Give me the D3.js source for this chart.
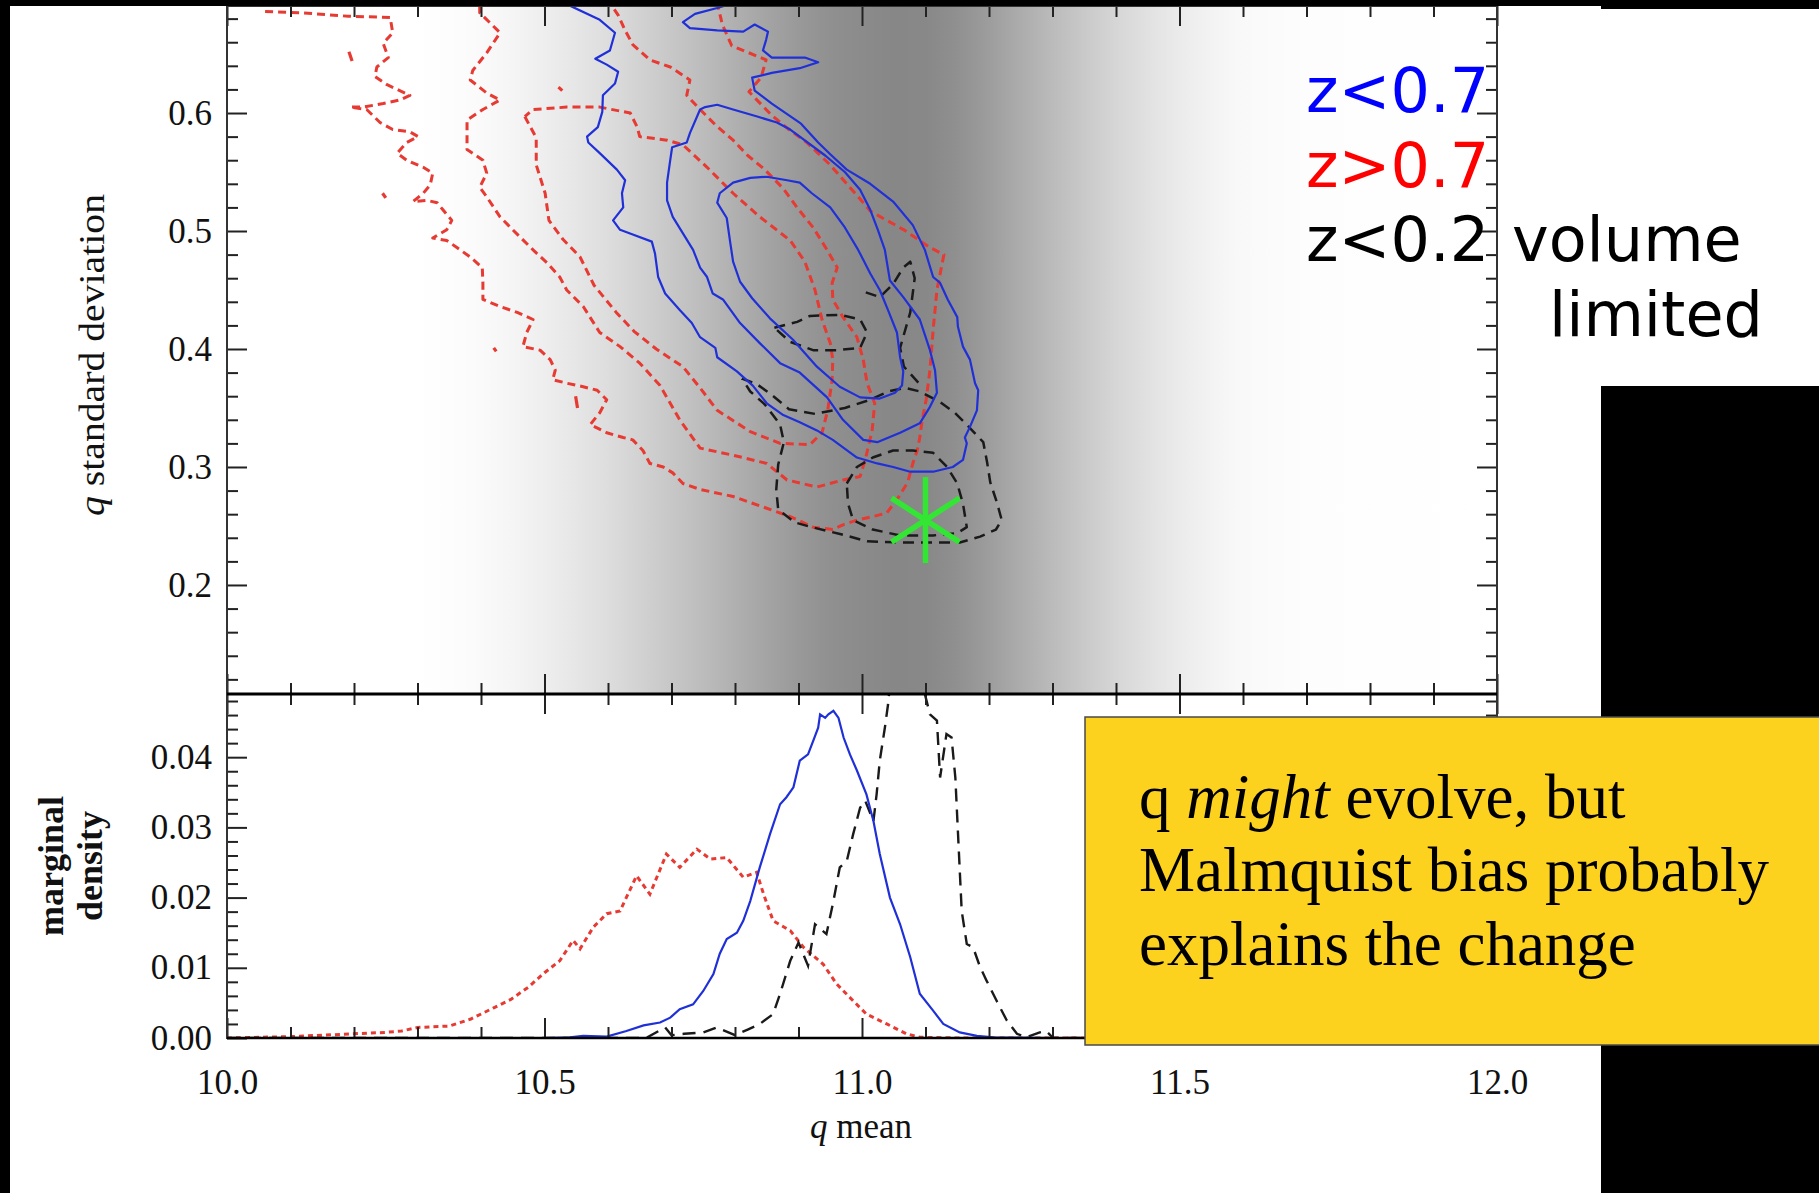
<!DOCTYPE html>
<html>
<head>
<meta charset="utf-8">
<script src="https://cdn.jsdelivr.net/npm/d3@7"></script>
<style>
  body { margin: 0; background: #fff; }
  svg { display: block; }
</style>
</head>
<body>
<svg id="chart" width="1819" height="1193"></svg>
<script>
// ---- data ----

// axis ticks
const qTicks = [10.0, 10.5, 11.0, 11.5, 12.0];
const sdTicks = [0.2, 0.3, 0.4, 0.5, 0.6];
const densTicks = [0.00, 0.01, 0.02, 0.03, 0.04];

// grey band behind the upper panel (q mean, grey level)
const shadeQ = [10.0, 10.3, 10.35, 10.4, 10.45, 10.5, 10.55, 10.6, 10.65, 10.7, 10.75, 10.8, 10.85, 10.9, 10.95,
  11.0, 11.05, 11.1, 11.15, 11.2, 11.25, 11.3, 11.35, 11.4, 11.45, 11.5, 11.55, 11.6, 11.7, 12.0];
const shadeGray = [255, 255, 253, 250, 245, 238, 230, 221, 210, 199, 188, 176, 164, 153, 144,
  139, 135, 136, 144, 157, 172, 187, 201, 214, 225, 235, 243, 249, 253, 255];

// z<0.7 contours (blue, solid)  [q mean, q sd]
const blueOuter = [[10.540,0.691],[10.587,0.679],[10.611,0.668],[10.603,0.653],[10.580,0.646],[10.598,0.641],[10.616,0.635],
  [10.611,0.625],[10.592,0.615],[10.591,0.601],[10.584,0.588],[10.567,0.580],[10.569,0.575],[10.587,0.566],[10.614,0.552],
  [10.627,0.543],[10.622,0.532],[10.624,0.520],[10.608,0.509],[10.619,0.501],[10.639,0.497],[10.669,0.491],[10.674,0.481],
  [10.679,0.461],[10.690,0.447],[10.713,0.433],[10.732,0.422],[10.745,0.410],[10.769,0.401],[10.772,0.393],[10.803,0.381],
  [10.828,0.369],[10.850,0.354],[10.876,0.344],[10.902,0.338],[10.929,0.331],[10.954,0.323],[10.992,0.308],[11.024,0.303],
  [11.049,0.300],[11.076,0.296],[11.112,0.296],[11.143,0.300],[11.159,0.306],[11.165,0.320],[11.162,0.325],[11.170,0.334],
  [11.181,0.348],[11.183,0.365],[11.178,0.371],[11.170,0.391],[11.159,0.402],[11.151,0.419],[11.150,0.427],[11.135,0.442],
  [11.123,0.456],[11.112,0.461],[11.099,0.484],[11.080,0.505],[11.049,0.525],[11.013,0.540],[10.976,0.552],[10.950,0.565],
  [10.931,0.575],[10.904,0.591],[10.858,0.608],[10.831,0.619],[10.827,0.630],[10.858,0.634],[10.902,0.638],[10.931,0.643],
  [10.910,0.647],[10.858,0.647],[10.844,0.653],[10.849,0.662],[10.852,0.669],[10.831,0.675],[10.813,0.669],[10.772,0.670],
  [10.729,0.672],[10.718,0.677],[10.737,0.684],[10.772,0.689],[10.784,0.691]];
const blueMid = [[10.902,0.580],[10.942,0.564],[10.973,0.550],[10.997,0.535],[11.013,0.518],[11.025,0.501],[11.036,0.484],
  [11.044,0.458],[11.065,0.444],[11.091,0.425],[11.107,0.399],[11.115,0.382],[11.118,0.363],[11.107,0.351],[11.091,0.337],
  [11.060,0.329],[11.024,0.321],[11.002,0.323],[10.970,0.340],[10.945,0.359],[10.902,0.380],[10.871,0.388],[10.839,0.405],
  [10.808,0.422],[10.781,0.442],[10.765,0.447],[10.756,0.461],[10.745,0.469],[10.734,0.484],[10.718,0.498],[10.702,0.512],
  [10.693,0.526],[10.693,0.541],[10.698,0.560],[10.701,0.571],[10.724,0.575],[10.729,0.583],[10.745,0.603],[10.753,0.605],
  [10.772,0.607],[10.797,0.603],[10.835,0.597],[10.866,0.592],[10.887,0.586],[10.902,0.580]];
const blueInner = [[10.850,0.546],[10.882,0.543],[10.902,0.541],[10.921,0.532],[10.950,0.520],[10.973,0.503],[10.994,0.484],
  [11.013,0.464],[11.028,0.450],[11.041,0.433],[11.055,0.414],[11.060,0.393],[11.065,0.381],[11.063,0.369],[11.052,0.363],
  [11.028,0.358],[10.997,0.359],[10.965,0.368],[10.929,0.385],[10.891,0.408],[10.855,0.426],[10.827,0.443],[10.808,0.457],
  [10.797,0.474],[10.792,0.492],[10.787,0.511],[10.772,0.524],[10.776,0.532],[10.797,0.541],[10.824,0.545],[10.850,0.546]];

// z>0.7 contours (red, dashed)
const redOuter = [[10.060,0.686],[10.115,0.685],[10.191,0.682],[10.257,0.681],[10.261,0.668],[10.246,0.659],[10.254,0.647],
  [10.236,0.639],[10.233,0.631],[10.252,0.624],[10.272,0.619],[10.288,0.615],[10.272,0.611],[10.246,0.608],[10.214,0.605],
  [10.194,0.605],[10.220,0.603],[10.241,0.592],[10.261,0.586],[10.288,0.584],[10.301,0.580],[10.283,0.575],[10.268,0.566],
  [10.283,0.560],[10.309,0.554],[10.324,0.549],[10.320,0.539],[10.309,0.532],[10.293,0.525],[10.315,0.526],[10.331,0.524],
  [10.340,0.518],[10.354,0.509],[10.346,0.501],[10.324,0.494],[10.346,0.492],[10.362,0.486],[10.383,0.478],[10.402,0.469],
  [10.403,0.456],[10.403,0.442],[10.430,0.436],[10.457,0.431],[10.482,0.425],[10.472,0.414],[10.466,0.402],[10.493,0.399],
  [10.509,0.391],[10.517,0.382],[10.513,0.374],[10.535,0.371],[10.561,0.368],[10.583,0.365],[10.598,0.357],[10.587,0.346],
  [10.572,0.336],[10.598,0.329],[10.624,0.325],[10.639,0.323],[10.655,0.314],[10.666,0.303],[10.687,0.300],[10.702,0.295],
  [10.718,0.286],[10.745,0.281],[10.797,0.275],[10.850,0.265],[10.887,0.258],[10.923,0.249],[10.954,0.247],[10.970,0.251],
  [10.992,0.255],[11.017,0.258],[11.039,0.261],[11.057,0.274],[11.072,0.287],[11.080,0.303],[11.087,0.314],[11.091,0.325],
  [11.094,0.337],[11.101,0.357],[11.107,0.382],[11.112,0.416],[11.118,0.450],[11.129,0.480],[11.107,0.486],[11.066,0.501],
  [11.039,0.509],[11.013,0.517],[10.994,0.529],[10.976,0.540],[10.950,0.556],[10.913,0.575],[10.885,0.586],[10.858,0.598],
  [10.822,0.618],[10.841,0.630],[10.849,0.645],[10.795,0.657],[10.780,0.675],[10.773,0.691]];
const redMid = [[10.398,0.691],[10.398,0.685],[10.430,0.668],[10.409,0.651],[10.387,0.636],[10.383,0.628],[10.409,0.617],
  [10.430,0.611],[10.403,0.603],[10.378,0.594],[10.378,0.569],[10.403,0.560],[10.409,0.549],[10.398,0.537],[10.409,0.529],
  [10.430,0.512],[10.450,0.501],[10.482,0.484],[10.504,0.473],[10.524,0.461],[10.535,0.450],[10.561,0.436],[10.587,0.414],
  [10.619,0.402],[10.650,0.388],[10.682,0.369],[10.713,0.340],[10.745,0.316],[10.797,0.310],[10.850,0.303],[10.882,0.289],
  [10.929,0.283],[10.970,0.289],[10.997,0.292],[11.005,0.306],[11.016,0.331],[11.020,0.354],[11.008,0.371],[11.002,0.391],
  [10.992,0.410],[10.970,0.427],[10.954,0.442],[10.953,0.456],[10.961,0.469],[10.945,0.484],[10.923,0.503],[10.899,0.519],
  [10.876,0.536],[10.847,0.552],[10.820,0.564],[10.797,0.577],[10.769,0.590],[10.745,0.603],[10.724,0.615],[10.729,0.628],
  [10.698,0.639],[10.666,0.645],[10.639,0.658],[10.627,0.670],[10.616,0.683],[10.606,0.691]];
const redInner = [[10.469,0.597],[10.487,0.579],[10.487,0.556],[10.501,0.532],[10.507,0.509],[10.529,0.493],[10.556,0.478],
  [10.578,0.454],[10.613,0.431],[10.641,0.415],[10.676,0.400],[10.718,0.385],[10.745,0.367],[10.772,0.348],[10.824,0.330],
  [10.871,0.320],[10.918,0.319],[10.937,0.329],[10.946,0.348],[10.953,0.374],[10.954,0.391],[10.950,0.405],[10.937,0.425],
  [10.926,0.450],[10.910,0.474],[10.887,0.492],[10.839,0.512],[10.797,0.532],[10.756,0.554],[10.718,0.573],[10.693,0.577],
  [10.650,0.580],[10.646,0.588],[10.635,0.600],[10.587,0.605],[10.535,0.605],[10.482,0.603],[10.469,0.597]];
const redBits = [
  [[10.192,0.652],[10.197,0.644]],
  [[10.245,0.532],[10.250,0.528]],
  [[10.420,0.401],[10.424,0.398]],
  [[10.522,0.622],[10.528,0.619]],
  [[10.549,0.360],[10.552,0.350]]
];

// z<0.2 volume limited contours (black, dashed)
const blackOuter = [[10.811,0.375],[10.835,0.370],[10.858,0.361],[10.885,0.349],[10.926,0.345],[10.973,0.350],[11.013,0.357],
  [11.041,0.364],[11.068,0.367],[11.091,0.364],[11.123,0.355],[11.146,0.346],[11.170,0.333],[11.191,0.321],[11.197,0.304],
  [11.202,0.287],[11.213,0.269],[11.220,0.255],[11.211,0.247],[11.186,0.241],[11.154,0.236],[11.112,0.236],[11.060,0.236],
  [11.008,0.237],[10.967,0.243],[10.921,0.249],[10.894,0.253],[10.868,0.264],[10.865,0.281],[10.868,0.302],[10.877,0.321],
  [10.871,0.336],[10.847,0.353],[10.824,0.364],[10.811,0.375]];
const blackMid = [[10.976,0.286],[10.992,0.300],[11.017,0.308],[11.049,0.314],[11.080,0.314],[11.112,0.312],[11.134,0.300],
  [11.150,0.286],[11.159,0.269],[11.165,0.249],[11.150,0.244],[11.112,0.242],[11.060,0.242],[11.017,0.247],[10.986,0.255],
  [10.978,0.269],[10.976,0.286]];
const blackInner = [[10.862,0.418],[10.898,0.423],[10.918,0.428],[10.965,0.429],[10.997,0.425],[11.008,0.414],[10.997,0.401],
  [10.961,0.399],[10.923,0.399],[10.887,0.406],[10.862,0.418]];
const blackArm = [[11.006,0.448],[11.028,0.444],[11.049,0.455],[11.065,0.469],[11.076,0.474],[11.083,0.460],[11.076,0.431],
  [11.060,0.401],[11.066,0.385],[11.093,0.369]];

// green asterisk
const starQ = 11.10, starSD = 0.255;

// marginal densities, lower panel
const blueMargQ = [10.00, 10.50, 10.54, 10.561, 10.598, 10.629, 10.656, 10.682, 10.698, 10.713, 10.734, 10.750, 10.766, 10.776,
  10.787, 10.803, 10.813, 10.824, 10.839, 10.855, 10.871, 10.881, 10.892, 10.902, 10.915, 10.923, 10.931, 10.934, 10.942,
  10.947, 10.955, 10.963, 10.971, 10.981, 10.992, 11.007, 11.018, 11.028, 11.044, 11.060, 11.076, 11.091, 11.112, 11.128,
  11.154, 11.181, 11.207, 11.30, 12.00];
const blueMargD = [0, 0, 0.0001, 0.0003, 0.0002, 0.0010, 0.0018, 0.0022, 0.0029, 0.0041, 0.0048, 0.0067, 0.0091, 0.0120,
  0.0141, 0.0150, 0.0167, 0.0195, 0.0243, 0.0290, 0.0333, 0.0343, 0.0357, 0.0395, 0.0404, 0.0423, 0.0442, 0.0461, 0.0456,
  0.0461, 0.0466, 0.0456, 0.0428, 0.0404, 0.0381, 0.0347, 0.0309, 0.0262, 0.0200, 0.0162, 0.0115, 0.0063, 0.0039, 0.0020,
  0.0008, 0.0003, 0.0001, 0, 0];
const redMargQ = [10.00, 10.10, 10.20, 10.25, 10.275, 10.30, 10.35, 10.384, 10.42, 10.447, 10.474, 10.50, 10.524, 10.545,
  10.556, 10.577, 10.598, 10.619, 10.645, 10.666, 10.692, 10.713, 10.74, 10.761, 10.787, 10.813, 10.834, 10.845, 10.86,
  10.887, 10.908, 10.939, 10.96, 10.986, 11.007, 11.039, 11.07, 11.091, 11.15, 12.00];
const redMargD = [0, 0.0002, 0.0006, 0.0008, 0.0010, 0.0015, 0.0017, 0.0027, 0.0043, 0.0055, 0.0072, 0.0093, 0.0110, 0.0139,
  0.0127, 0.0158, 0.0177, 0.0181, 0.0231, 0.0205, 0.0262, 0.0243, 0.0269, 0.0255, 0.0257, 0.0229, 0.0236, 0.0205, 0.0167,
  0.0153, 0.0129, 0.0105, 0.0077, 0.0053, 0.0034, 0.0020, 0.0006, 0.0001, 0, 0];
const blackMargQ = [10.00, 10.66, 10.69, 10.70, 10.72, 10.75, 10.771, 10.80, 10.82, 10.839, 10.86, 10.871, 10.887, 10.90,
  10.915, 10.926, 10.944, 10.955, 10.965, 10.976, 10.986, 10.997, 11.005, 11.018, 11.023, 11.028, 11.036, 11.041, 11.05,
  11.09, 11.099, 11.107, 11.118, 11.123, 11.133, 11.141, 11.147, 11.152, 11.157, 11.165, 11.175, 11.186, 11.196, 11.212,
  11.228, 11.244, 11.259, 11.28, 11.29, 11.301, 12.00];
const blackMargD = [0, 0, 0.0015, 0.0004, 0.0006, 0.0008, 0.0015, 0.0004, 0.0012, 0.0020, 0.0034, 0.0063, 0.0110, 0.0136,
  0.0103, 0.0162, 0.0148, 0.0195, 0.0243, 0.0252, 0.0290, 0.0328, 0.0338, 0.0309, 0.0347, 0.0395, 0.0442, 0.0475, 0.056,
  0.056, 0.0490, 0.0461, 0.0452, 0.0371, 0.0433, 0.0428, 0.0371, 0.0276, 0.0181, 0.0134, 0.0129, 0.0101, 0.0082, 0.0053,
  0.0025, 0.0006, 0.0001, 0.0008, 0.0010, 0, 0];

// key and note
const keyLines = [
  { text: "z<0.7", color: "#0000ff" },
  { text: "z>0.7", color: "#ff0000" },
  { text: "z<0.2", color: "#000000" }
];
const noteLines = ["Malmquist bias probably", "explains the change"];

// ---- drawing ----
const W = 1819, H = 1193;
const plot = { left: 227, right: 1497, top: 6, mid: 694, bottom: 1038 };
const serif = "'Liberation Serif', 'Times New Roman', serif";
const sans = "'DejaVu Sans', Verdana, sans-serif";

const svg = d3.select("#chart");
svg.append("rect").attr("width", W).attr("height", H).attr("fill", "#fff");

const x = d3.scaleLinear().domain([10, 12]).range([plot.left, plot.right]);
const yTop = d3.scaleLinear().domain([0.1076, 0.6907]).range([plot.mid, plot.top]);
const yBot = d3.scaleLinear().domain([0, 0.049]).range([plot.bottom, plot.mid]);

const defs = svg.append("defs");
const grad = defs.append("linearGradient").attr("id", "band")
  .attr("gradientUnits", "userSpaceOnUse")
  .attr("x1", plot.left).attr("x2", plot.right).attr("y1", 0).attr("y2", 0);
grad.selectAll("stop").data(d3.zip(shadeQ, shadeGray)).join("stop")
  .attr("offset", d => (x(d[0]) - plot.left) / (plot.right - plot.left))
  .attr("stop-color", d => d3.rgb(d[1], d[1], d[1]).formatHex());

defs.append("clipPath").attr("id", "clipTop").append("rect")
  .attr("x", plot.left).attr("y", plot.top)
  .attr("width", plot.right - plot.left).attr("height", plot.mid - plot.top);
defs.append("clipPath").attr("id", "clipBot").append("rect")
  .attr("x", plot.left).attr("y", plot.mid)
  .attr("width", plot.right - plot.left).attr("height", plot.bottom - plot.mid);

// grey band
svg.append("rect")
  .attr("x", plot.left).attr("y", plot.top)
  .attr("width", plot.right - plot.left).attr("height", plot.mid - plot.top)
  .attr("fill", "url(#band)");

// contours
const lineTop = d3.line().x(d => x(d[0])).y(d => yTop(d[1]));
const gC = svg.append("g").attr("clip-path", "url(#clipTop)").attr("fill", "none");

function contour(pts, color, width, dash) {
  gC.append("path").attr("d", lineTop(pts))
    .attr("stroke", color).attr("stroke-width", width)
    .attr("stroke-dasharray", dash).attr("stroke-linejoin", "round");
}
[redOuter, redMid, redInner].forEach(p => contour(p, "#e63a32", 3, "8,5"));
redBits.forEach(p => contour(p, "#e63a32", 3.2, null));
[blackOuter, blackMid, blackInner, blackArm].forEach(p => contour(p, "#1a1a1a", 2.5, "11,7"));
[blueOuter, blueMid, blueInner].forEach(p => contour(p, "#2030d8", 2.2, null));

// asterisk
const sx = x(starQ), sy = yTop(starSD);
const arms = [[0, -43, 0, 43], [-34, -22, 34, 22], [-34, 22, 34, -22]];
svg.append("g").selectAll("line").data(arms).join("line")
  .attr("x1", d => sx + d[0]).attr("y1", d => sy + d[1])
  .attr("x2", d => sx + d[2]).attr("y2", d => sy + d[3])
  .attr("stroke", "#33e633").attr("stroke-width", 5.5);

// marginal curves
const lineBot = d3.line().x(d => x(d[0])).y(d => yBot(d[1]));
const gM = svg.append("g").attr("clip-path", "url(#clipBot)").attr("fill", "none");
gM.append("path").attr("d", lineBot(d3.zip(redMargQ, redMargD)))
  .attr("stroke", "#e63a32").attr("stroke-width", 3).attr("stroke-dasharray", "5,4");
gM.append("path").attr("d", lineBot(d3.zip(blackMargQ, blackMargD)))
  .attr("stroke", "#1a1a1a").attr("stroke-width", 2.4).attr("stroke-dasharray", "13,8");
gM.append("path").attr("d", lineBot(d3.zip(blueMargQ, blueMargD)))
  .attr("stroke", "#2030d8").attr("stroke-width", 2.2);

// axes
const qMinor = d3.range(10.1, 12, 0.1).filter(v => Math.abs(v * 2 - Math.round(v * 2)) > 0.01);
const sdMinor = d3.range(0.12, 0.69, 0.02).filter(v => Math.abs(v * 10 - Math.round(v * 10)) > 0.01);
const dMinor = d3.range(0.002, 0.049, 0.002).filter(v => Math.abs(v * 100 - Math.round(v * 100)) > 0.01);

function styleAxis(g) {
  g.select(".domain").remove();
  g.selectAll(".tick line").attr("stroke", "#222").attr("stroke-width", 2);
  g.selectAll("text").attr("font-family", serif).attr("font-size", 35).attr("fill", "#111");
}
function axis(gen, tx, ty, vals, size, fmt, pad) {
  const a = gen.tickValues(vals).tickSize(size).tickPadding(pad || 3).tickFormat(fmt || "");
  svg.append("g").attr("transform", `translate(${tx},${ty})`).call(a).call(styleAxis);
}

// top panel
axis(d3.axisLeft(yTop), plot.left, 0, sdTicks, -20, d3.format(".1f"), 15);
axis(d3.axisLeft(yTop), plot.left, 0, sdMinor, -11);
axis(d3.axisRight(yTop), plot.right, 0, sdTicks, -20);
axis(d3.axisRight(yTop), plot.right, 0, sdMinor, -11);
axis(d3.axisBottom(x), 0, plot.mid, qTicks, -20);
axis(d3.axisBottom(x), 0, plot.mid, qMinor, -11);
axis(d3.axisTop(x), 0, plot.top, qTicks, -20);
axis(d3.axisTop(x), 0, plot.top, qMinor, -11);
// lower panel
axis(d3.axisLeft(yBot), plot.left, 0, densTicks, -20, d3.format(".2f"), 15);
axis(d3.axisLeft(yBot), plot.left, 0, dMinor, -11);
axis(d3.axisRight(yBot), plot.right, 0, densTicks, -20);
axis(d3.axisRight(yBot), plot.right, 0, dMinor, -11);
axis(d3.axisTop(x), 0, plot.mid, qTicks, -20);
axis(d3.axisTop(x), 0, plot.mid, qMinor, -11);
axis(d3.axisBottom(x), 0, plot.bottom, qTicks, -20, d3.format(".1f"), 31);
axis(d3.axisBottom(x), 0, plot.bottom, qMinor, -11);

// frames
svg.append("rect").attr("x", plot.left).attr("y", plot.top)
  .attr("width", plot.right - plot.left).attr("height", plot.bottom - plot.top)
  .attr("fill", "none").attr("stroke", "#333").attr("stroke-width", 2);
svg.append("line").attr("x1", plot.left).attr("x2", plot.right)
  .attr("y1", plot.mid).attr("y2", plot.mid).attr("stroke", "#000").attr("stroke-width", 3);
svg.append("line").attr("x1", plot.left).attr("x2", plot.right)
  .attr("y1", plot.bottom).attr("y2", plot.bottom).attr("stroke", "#000").attr("stroke-width", 2.5);

// axis titles
const yt = svg.append("text")
  .attr("transform", `translate(104,${(plot.top + plot.mid) / 2 + 5}) rotate(-90)`)
  .attr("text-anchor", "middle").attr("font-family", serif).attr("font-size", 36).attr("fill", "#111")
  .attr("textLength", 322).attr("lengthAdjust", "spacingAndGlyphs");
yt.append("tspan").attr("font-style", "italic").text("q");
yt.append("tspan").text(" standard deviation");

const ym = svg.append("text")
  .attr("transform", `translate(63,${(plot.mid + plot.bottom) / 2}) rotate(-90)`)
  .attr("text-anchor", "middle").attr("font-family", serif).attr("font-size", 36)
  .attr("font-weight", "bold").attr("fill", "#111");
ym.append("tspan").attr("x", 0).attr("dy", 0).text("marginal");
ym.append("tspan").attr("x", 0).attr("dy", 39).text("density");

const xt = svg.append("text").attr("x", 861).attr("y", 1138)
  .attr("text-anchor", "middle").attr("font-family", serif).attr("font-size", 35).attr("fill", "#111");
xt.append("tspan").attr("font-style", "italic").text("q");
xt.append("tspan").text(" mean");

// slide frame pieces
svg.append("rect").attr("x", 0).attr("y", 0).attr("width", W).attr("height", 6).attr("fill", "#000");
svg.append("rect").attr("x", 1601).attr("y", 0).attr("width", W - 1601).attr("height", 9).attr("fill", "#000");
svg.append("rect").attr("x", 0).attr("y", 0).attr("width", 10).attr("height", H).attr("fill", "#000");
svg.append("rect").attr("x", 1601).attr("y", 386).attr("width", W - 1601).attr("height", H - 386).attr("fill", "#000");

// key
const key = svg.append("g").attr("font-family", sans).attr("font-size", 62);
key.selectAll("text.k").data(keyLines).join("text").attr("class", "k")
  .attr("x", 1306).attr("y", (d, i) => 112 + i * 74.5)
  .attr("fill", d => d.color).text(d => d.text);
key.append("text").attr("x", 1512).attr("y", 261).attr("fill", "#000").text("volume");
key.append("text").attr("x", 1549).attr("y", 336).attr("fill", "#000").text("limited");

// note box
svg.append("rect").attr("x", 1085).attr("y", 717).attr("width", W - 1085 + 2).attr("height", 328)
  .attr("fill", "#fcd21f").attr("stroke", "#4a4a4a").attr("stroke-width", 1.5);
const note = svg.append("g").attr("font-family", serif).attr("font-size", 63).attr("fill", "#000");
const n1 = note.append("text").attr("x", 1139).attr("y", 818);
n1.append("tspan").text("q ");
n1.append("tspan").attr("font-style", "italic").text("might");
n1.append("tspan").text(" evolve, but");
note.selectAll("text.n").data(noteLines).join("text").attr("class", "n")
  .attr("x", 1139).attr("y", (d, i) => 891 + i * 73.5).text(d => d);
</script>
</body>
</html>
